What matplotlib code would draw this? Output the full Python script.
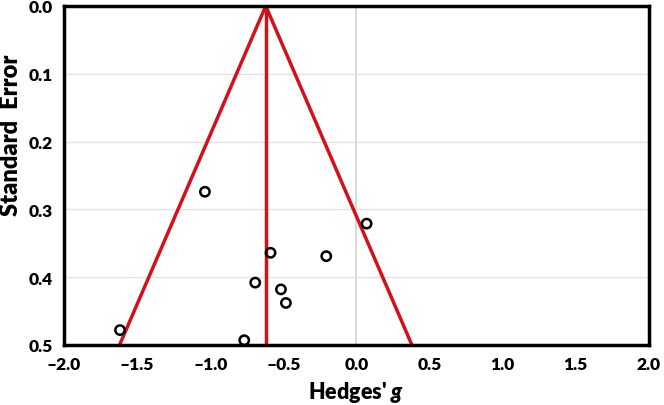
import matplotlib
matplotlib.use("Agg")
import matplotlib.pyplot as plt

plt.rcParams['font.family'] = ['Lato', 'DejaVu Sans']
plt.rcParams['mathtext.fontset'] = 'custom'
plt.rcParams['mathtext.it'] = 'Lato:italic:heavy'

# study effects (Hedges' g) and standard errors
hedges_g = [-1.036, 0.070, -0.587, -0.206, -0.692, -0.516, -0.482, -1.617, -0.767]
std_err = [0.274, 0.321, 0.364, 0.369, 0.408, 0.418, 0.438, 0.478, 0.493]

# pooled effect and funnel limits
pooled = -0.62
funnel_se = [0.5, 0.0, 0.5]
funnel_g = [-1.62, -0.62, 0.38]

x_ticks = [-2.0, -1.5, -1.0, -0.5, 0.0, 0.5, 1.0, 1.5, 2.0]
y_ticks = [0.0, 0.1, 0.2, 0.3, 0.4, 0.5]

red = '#d2111a'

fig = plt.figure(figsize=(6.64, 4.06), dpi=100)
ax = fig.add_axes([0.0964, 0.1478, 0.8806, 0.835])

for yv in y_ticks[1:-1]:
    ax.axhline(yv, color='#e2e2e2', lw=1.0, zorder=0)
ax.axvline(0.0, color='#d4d4d4', lw=1.2, zorder=0)

ax.plot(funnel_g, funnel_se, color=red, lw=2.5, zorder=2, solid_joinstyle='miter')
ax.plot([pooled, pooled], [0.0, 0.5], color=red, lw=2.5, zorder=2)

ax.scatter(hedges_g, std_err, s=45, facecolors='none', edgecolors='black',
           linewidths=1.8, zorder=3, clip_on=False)

ax.set_xlim(-2.0, 2.0)
ax.set_ylim(0.5, 0.0)
ax.set_xticks(x_ticks)
ax.set_yticks(y_ticks)
ax.set_xticklabels(['%.1f' % v if v >= 0 else '\u2013%.1f' % -v for v in x_ticks])
ax.set_yticklabels(['%.1f' % v for v in y_ticks])
ax.tick_params(length=0, pad=8, labelsize=12.5)
for lab in ax.get_xticklabels() + ax.get_yticklabels():
    lab.set_fontweight('heavy')

for sp in ax.spines.values():
    sp.set_linewidth(2.5)
    sp.set_color('black')

fig.text(0.5369, 0.034, "Hedges' $\\mathit{g}$", fontsize=15.5, fontweight='heavy',
         ha='center', va='center')
fig.text(0.0165, 0.667, "Standard  Error", fontsize=17, fontweight='heavy',
         rotation=90, ha='center', va='center')

fig.savefig('out.png', dpi=100)
